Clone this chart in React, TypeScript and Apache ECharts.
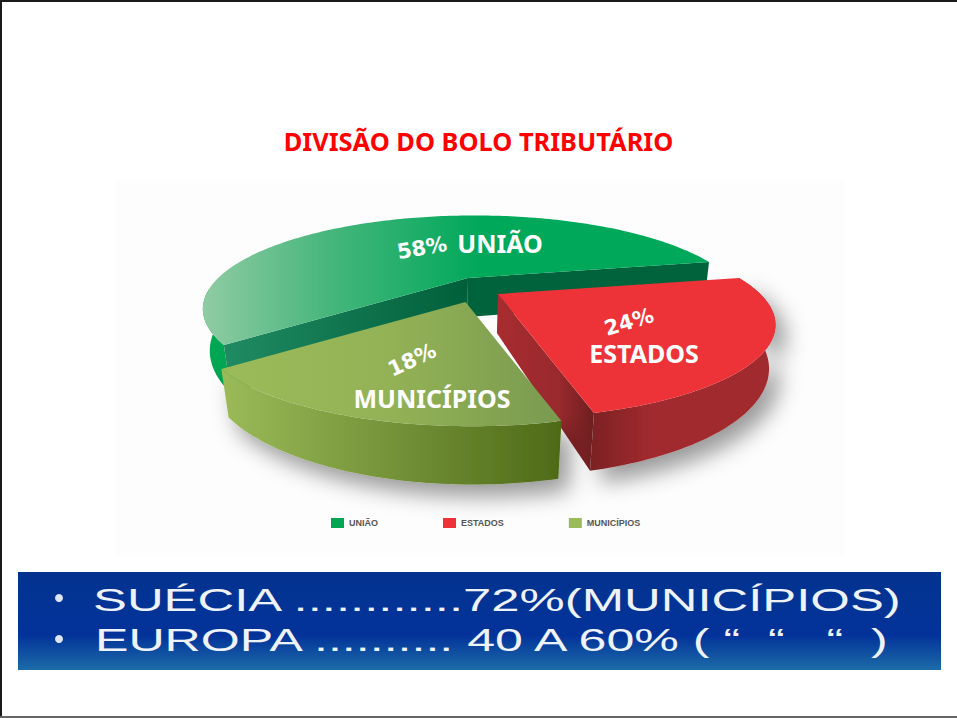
import React, { useEffect, useRef } from "react";
import * as echarts from "echarts";

const categories = ["UNIÃO", "ESTADOS", "MUNICÍPIOS"];
const values = [58, 24, 18];
const percentLabels = ["58%", "24%", "18%"];
const titleText = "DIVISÃO DO BOLO TRIBUTÁRIO";
const noteLines = ["SUÉCIA ............72%(MUNICÍPIOS)", "EUROPA .......... 40 A 60% ( “  “   “  )"];

const START_ANGLE = (208.8 * Math.PI) / 180;
const total = values.reduce((a, b) => a + b, 0);

// perspective mapping of the unit disc on the page
const H = { a: 251.2, b: -49.1, c: -16.68, d: -81.5, e: 0.0423, f: 0.3283 };
const project = (t: number) => {
  const x = Math.cos(t), y = Math.sin(t);
  const w = 1 + H.e * x + H.f * y;
  return { x: (H.a * x + H.b * y) / w, y: (H.c * x + H.d * y) / w, w };
};
const VANISH_X = 430;
const extrude = (p: number[], w: number) => {
  const d = 39 / w;
  const run = p[0] > VANISH_X ? 2400 : 1400;
  return [p[0] - ((p[0] - VANISH_X) / run) * d, p[1] + d];
};

const lin = (x0: number, y0: number, x1: number, y1: number, stops: [number, string][]) =>
  new echarts.graphic.LinearGradient(x0, y0, x1, y1, stops.map(([offset, color]) => ({ offset, color })), true);

type Look = {
  cx: number; cy: number; color: string;
  top: any; outer: any; wallFrom: number; // degrees of arc from slice end where the outer wall is visible
  startWall: any; endWall: any; shadow: boolean;
  name: [number, number]; pct: [number, number, number];
};
const looks: Look[] = [
  {
    cx: 468, cy: 278, color: "#00a651",
    top: lin(205, 0, 480, 0, [[0, "#8fcba3"], [0.45, "#46b67c"], [1, "#00a85a"]]),
    outer: "#00a651",
    wallFrom: 175,
    startWall: lin(229, 0, 470, 0, [[0, "#1f8a62"], [1, "#005f3a"]]),
    endWall: "#00633c",
    shadow: false,
    name: [500, 243], pct: [422, 248, 10],
  },
  {
    cx: 498, cy: 294, color: "#ee3338",
    top: "#ee3338",
    outer: lin(592, 0, 650, 0, [[0, "#7c2224"], [1, "#a02a2e"]]),
    wallFrom: 0,
    startWall: null,
    endWall: lin(496, 0, 594, 0, [[0, "#a82c30"], [0.65, "#98292d"], [1, "#6e1e20"]]),
    shadow: true,
    name: [644, 353], pct: [629, 322, 17],
  },
  {
    cx: 465.5, cy: 302, color: "#9bbb59",
    top: lin(221, 0, 560, 0, [[0, "#9bbb59"], [0.5, "#93b256"], [1, "#7a9a50"]]),
    outer: lin(221, 0, 558, 0, [[0, "#9bbb59"], [1, "#4f6b18"]]),
    wallFrom: 0,
    startWall: null,
    endWall: null,
    shadow: true,
    name: [432, 398], pct: [412, 360, 25],
  },
];

const sliceRange = (i: number) => {
  const before = values.slice(0, i).reduce((a, b) => a + b, 0);
  const a0 = START_ANGLE - (before / total) * 2 * Math.PI;
  const a1 = a0 - (values[i] / total) * 2 * Math.PI;
  return [a0, a1];
};

const makeRenderItem = (i: number) => () => {
  const look = looks[i];
  const [a0, a1] = sliceRange(i);
  const pts: { p: number[]; w: number; t: number }[] = [];
  const n = Math.ceil(Math.abs(a0 - a1) / 0.02);
  for (let k = 0; k <= n; k++) {
    const t = a0 + ((a1 - a0) * k) / n;
    const q = project(t);
    pts.push({ p: [look.cx + q.x, look.cy + q.y], w: q.w, t });
  }
  const apex = [look.cx, look.cy];
  const children: any[] = [];
  const quad = (a: { p: number[]; w: number }, fill: any) => {
    children.push({
      type: "polygon",
      shape: { points: [apex, a.p, extrude(a.p, a.w), extrude(apex, 1)] },
      style: { fill },
    });
  };
  if (look.outer) {
    const vis = look.wallFrom
      ? pts.filter((q) => {
          const deg = ((q.t * 180) / Math.PI + 360) % 360;
          return deg >= look.wallFrom && deg <= 209;
        })
      : pts;
    const poly = vis.map((q) => q.p).concat(vis.slice().reverse().map((q) => extrude(q.p, q.w)));
    children.push({
      type: "polygon",
      shape: { points: poly },
      style: look.shadow
        ? { fill: look.outer, shadowBlur: 22, shadowOffsetX: 10, shadowOffsetY: 12, shadowColor: "rgba(0,0,0,0.4)" }
        : { fill: look.outer },
    });
  }
  if (look.startWall) quad(pts[0], look.startWall);
  if (look.endWall) quad(pts[pts.length - 1], look.endWall);
  children.push({
    type: "polygon",
    shape: { points: [apex].concat(pts.map((q) => q.p)) },
    style: { fill: look.top },
  });
  children.push({
    type: "text",
    x: look.pct[0],
    y: look.pct[1],
    rotation: (look.pct[2] * Math.PI) / 180,
    style: {
      text: percentLabels[i], fill: "#ffffff", align: "center", verticalAlign: "middle",
      font: 'bold 21px "DejaVu Sans"',
    },
  });
  children.push({
    type: "text",
    x: look.name[0],
    y: look.name[1],
    style: {
      text: categories[i], fill: "#ffffff", align: "center", verticalAlign: "middle",
      font: 'bold 25px "Noto Sans"',
    },
  });
  return { type: "group", children };
};

export default function App() {
  const ref = useRef<HTMLDivElement>(null);
  useEffect(() => {
    const chart = echarts.init(ref.current!, null, { renderer: "svg" });
    chart.setOption({
      animation: false,
      backgroundColor: "#ffffff",
      title: {
        text: titleText,
        left: "center",
        top: 123,
        textStyle: { color: "#ff0000", fontSize: 25.4, fontWeight: "bold", fontFamily: "Noto Sans" },
      },
      legend: {
        left: 326,
        top: 513,
        icon: "rect",
        itemWidth: 13,
        itemHeight: 10,
        itemGap: 65,
        data: categories,
        selectedMode: false,
        textStyle: { fontSize: 9, fontWeight: "bold", color: "#555555", fontFamily: "Liberation Sans" },
      },
      series: categories.map((name, i) => ({
        type: "custom",
        name,
        coordinateSystem: "none",
        itemStyle: { color: looks[i].color },
        silent: true,
        data: [values[i]],
        renderItem: makeRenderItem(i),
      })),
      graphic: [
        { type: "rect", z: -2, shape: { x: 115, y: 180, width: 730, height: 375 }, style: { fill: "#fdfdfd" } },
        {
          type: "rect", z: -1,
          shape: { x: 18, y: 572, width: 923, height: 98 },
          style: { fill: new echarts.graphic.LinearGradient(0, 0, 0, 1, [
            { offset: 0, color: "#03338f" }, { offset: 0.65, color: "#03339a" }, { offset: 1, color: "#1c6ca8" },
          ]) },
        },
        { type: "circle", shape: { cx: 59, cy: 598, r: 4 }, style: { fill: "#dfe6f3" } },
        { type: "circle", shape: { cx: 59, cy: 639, r: 4 }, style: { fill: "#dfe6f3" } },
        {
          type: "text", x: 93, y: 600, scaleX: 1.64,
          style: { text: noteLines[0], fill: "#eef2fa", font: '31px "Liberation Sans"', verticalAlign: "middle" },
        },
        {
          type: "text", x: 95, y: 640, scaleX: 1.617,
          style: { text: noteLines[1], fill: "#eef2fa", font: '31px "Liberation Sans"', verticalAlign: "middle" },
        },
        { type: "rect", shape: { x: 0, y: 0, width: 957, height: 2 }, style: { fill: "#1a1a1a" } },
        { type: "rect", shape: { x: 0, y: 0, width: 2, height: 718 }, style: { fill: "#1a1a1a" } },
        { type: "rect", shape: { x: 0, y: 716, width: 957, height: 2 }, style: { fill: "#666666" } },
      ],
    });
    return () => chart.dispose();
  }, []);
  return <div ref={ref} style={{ position: "absolute", left: 0, top: 0, width: 957, height: 718 }} />;
}
